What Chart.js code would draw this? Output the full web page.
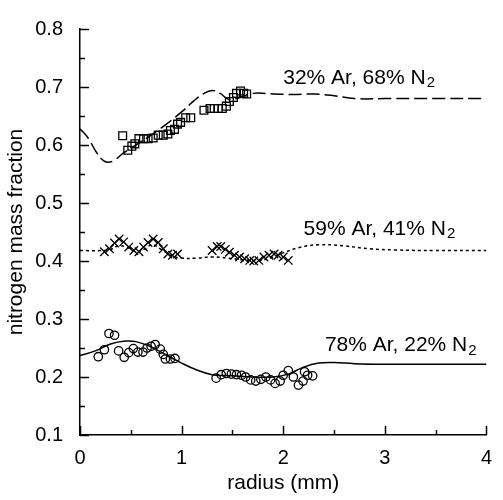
<!DOCTYPE html>
<html>
<head>
<meta charset="utf-8">
<script src="https://cdn.jsdelivr.net/npm/chart.js@4"></script>
<style>
    html, body { margin: 0; padding: 0; background: #fff; }
</style>
</head>
<body>
<canvas id="myChart" width="503" height="500"></canvas>
<script>
// --- data ---
const ticksX = [0, 1, 2, 3, 4];
const ticksY = [0.1, 0.2, 0.3, 0.4, 0.5, 0.6, 0.7, 0.8];

// 32% Ar, 68% N2 (squares + dashed model)
const sqX = [0.42, 0.47, 0.51, 0.54, 0.58, 0.625, 0.67, 0.72, 0.77, 0.82, 0.865, 0.89, 0.93, 0.96, 0.99, 1.04, 1.09,
    1.22, 1.28, 1.32, 1.36, 1.40, 1.44, 1.47, 1.51, 1.54, 1.58, 1.61, 1.64];
const sqY = [0.616, 0.591, 0.598, 0.602, 0.611, 0.611, 0.611, 0.612, 0.617, 0.617, 0.619, 0.625, 0.627, 0.636, 0.639, 0.647, 0.647,
    0.660, 0.663, 0.663, 0.663, 0.663, 0.667, 0.675, 0.682, 0.689, 0.693, 0.689, 0.688];
const dashX = [0, 0.08, 0.16, 0.24, 0.32, 0.42, 0.55, 0.7, 0.85, 1.0, 1.12, 1.22, 1.3, 1.38, 1.46, 1.56, 1.7, 1.9, 2.1, 2.3, 2.5, 2.7, 3.0, 3.5, 4.0];
const dashY = [0.628, 0.612, 0.588, 0.572, 0.572, 0.585, 0.600, 0.617, 0.636, 0.657, 0.676, 0.689, 0.694, 0.689, 0.679, 0.681, 0.689, 0.688, 0.687, 0.688, 0.685, 0.680, 0.680, 0.680, 0.680];

// 59% Ar, 41% N2 (crosses + dotted model)
const crX = [0.24, 0.29, 0.34, 0.385, 0.43, 0.48, 0.53, 0.58, 0.625, 0.67, 0.72, 0.77, 0.82, 0.865, 0.91, 0.96,
    1.30, 1.35, 1.385, 1.43, 1.47, 1.52, 1.57, 1.62, 1.67, 1.71, 1.76, 1.81, 1.86, 1.91, 1.95, 2.00, 2.05];
const crY = [0.416, 0.421, 0.431, 0.438, 0.433, 0.424, 0.418, 0.416, 0.424, 0.432, 0.438, 0.432, 0.421, 0.412, 0.410, 0.412,
    0.418, 0.425, 0.425, 0.420, 0.415, 0.410, 0.407, 0.404, 0.401, 0.400, 0.401, 0.407, 0.410, 0.412, 0.410, 0.407, 0.401];
const dotX = [0, 0.2, 0.3, 0.38, 0.46, 0.55, 0.63, 0.71, 0.8, 0.9, 1.0, 1.15, 1.3, 1.45, 1.6, 1.75, 1.85, 2.0, 2.15, 2.35, 2.6, 2.85, 3.1, 3.5, 4.0];
const dotY = [0.418, 0.418, 0.420, 0.426, 0.424, 0.416, 0.420, 0.428, 0.420, 0.409, 0.405, 0.405, 0.407, 0.405, 0.402, 0.401, 0.404, 0.414, 0.423, 0.428, 0.426, 0.421, 0.419, 0.418, 0.418];

// 78% Ar, 22% N2 (circles + solid model)
const ciX = [0.18, 0.24, 0.285, 0.34, 0.38, 0.435, 0.48, 0.525, 0.57, 0.62, 0.66, 0.70, 0.74, 0.79, 0.82, 0.84, 0.89, 0.935,
    1.34, 1.39, 1.44, 1.49, 1.54, 1.59, 1.63, 1.68, 1.73, 1.78, 1.83, 1.875, 1.92, 1.97, 2.0, 2.05, 2.10, 2.15, 2.195, 2.21, 2.24, 2.29];
const ciY = [0.235, 0.247, 0.275, 0.272, 0.245, 0.234, 0.242, 0.249, 0.243, 0.243, 0.250, 0.253, 0.256, 0.248, 0.239, 0.231, 0.231, 0.232,
    0.198, 0.204, 0.206, 0.205, 0.204, 0.203, 0.200, 0.195, 0.193, 0.196, 0.200, 0.195, 0.189, 0.193, 0.203, 0.211, 0.200, 0.186, 0.193, 0.209, 0.203, 0.202];
const solX = [0, 0.15, 0.3, 0.45, 0.55, 0.7, 0.85, 1.0, 1.15, 1.3, 1.5, 1.7, 1.9, 2.05, 2.2, 2.35, 2.5, 2.7, 3.0, 3.5, 4.0];
const solY = [0.237, 0.245, 0.257, 0.262, 0.261, 0.252, 0.238, 0.224, 0.212, 0.204, 0.202, 0.200, 0.200, 0.205, 0.217, 0.224, 0.225, 0.223, 0.222, 0.222, 0.222];

const labels = [
    { text: '32% Ar, 68% N', sub: '2', x: 2.0, y: 0.716 },
    { text: '59% Ar, 41% N', sub: '2', x: 2.2, y: 0.455 },
    { text: '78% Ar, 22% N', sub: '2', x: 2.41, y: 0.254 }
];

const FONT = '"Liberation Sans", Arial, Helvetica, sans-serif';

function pts(xs, ys) {
    return xs.map((x, i) => ({ x: x, y: ys[i] }));
}

function lineSet(xs, ys, dash) {
    return {
        type: 'line',
        data: pts(xs, ys),
        borderColor: '#000',
        borderWidth: 1.5,
        borderDash: dash,
        pointRadius: 0,
        fill: false,
        tension: 0.4
    };
}

function markSet(xs, ys, style, r) {
    return {
        type: 'scatter',
        data: pts(xs, ys),
        pointStyle: style,
        pointRadius: r,
        borderColor: '#000',
        backgroundColor: 'rgba(0,0,0,0)',
        borderWidth: 1.3
    };
}

// inward major/minor tick marks + curve labels
const extras = {
    id: 'extras',
    afterDraw(chart) {
        const ctx = chart.ctx;
        const xs = chart.scales.x, ys = chart.scales.y;
        ctx.save();
        ctx.strokeStyle = '#000';
        ctx.lineWidth = 1.5;
        const x0 = xs.getPixelForValue(0);
        const y0 = ys.getPixelForValue(0.1);
        for (let i = 0; i <= 14; i++) {
            const v = 0.1 + i * 0.05;
            const len = i % 2 === 0 ? 9 : 5;
            const py = Math.round(ys.getPixelForValue(v)) + 0.5;
            ctx.beginPath();
            ctx.moveTo(x0, py);
            ctx.lineTo(x0 + len, py);
            ctx.stroke();
        }
        for (let i = 0; i <= 8; i++) {
            const v = i * 0.5;
            const len = i % 2 === 0 ? 9 : 5;
            const px = Math.round(xs.getPixelForValue(v)) + 0.5;
            ctx.beginPath();
            ctx.moveTo(px, y0);
            ctx.lineTo(px, y0 - len);
            ctx.stroke();
        }
        ctx.fillStyle = '#000';
        ctx.textBaseline = 'middle';
        ctx.textAlign = 'left';
        labels.forEach(l => {
            const px = xs.getPixelForValue(l.x);
            const py = ys.getPixelForValue(l.y);
            ctx.font = '21px ' + FONT;
            ctx.fillText(l.text, px, py);
            const w = ctx.measureText(l.text).width;
            ctx.font = '15px ' + FONT;
            ctx.fillText(l.sub, px + w + 1, py + 5);
        });
        ctx.restore();
    }
};

Chart.defaults.font.family = FONT;
Chart.defaults.color = '#000';

const ctx = document.getElementById('myChart');
const myChart = new Chart(ctx, {
    data: {
        datasets: [
            lineSet(dashX, dashY, [13, 5]),
            markSet(sqX, sqY, 'rect', 5.5),
            lineSet(dotX, dotY, [3, 3]),
            markSet(crX, crY, 'crossRot', 6),
            lineSet(solX, solY, []),
            markSet(ciX, ciY, 'circle', 4.2)
        ]
    },
    options: {
        responsive: false,
        animation: false,
        layout: { padding: { top: 17, right: 7, left: 0, bottom: 0 } },
        plugins: {
            legend: { display: false },
            tooltip: { enabled: false }
        },
        scales: {
            x: {
                type: 'linear',
                min: 0,
                max: 4,
                afterBuildTicks: s => { s.ticks = ticksX.map(v => ({ value: v })); },
                afterFit: s => { s.height = 65; },
                grid: { display: false, drawTicks: false },
                border: { display: true, color: '#000', width: 1.5 },
                ticks: { padding: 11, font: { size: 20 }, callback: v => String(v) },
                title: { display: true, text: 'radius (mm)', font: { size: 21 }, padding: { top: 0, bottom: 4 } }
            },
            y: {
                type: 'linear',
                min: 0.1,
                max: 0.8,
                afterBuildTicks: s => { s.ticks = ticksY.map(v => ({ value: v })); },
                afterFit: s => { s.width = 80; },
                grid: { display: false, drawTicks: false },
                border: { display: true, color: '#000', width: 1.5 },
                ticks: { padding: 17, font: { size: 20 }, callback: v => Number(v).toFixed(1) },
                title: { display: true, text: 'nitrogen mass fraction', font: { size: 21 }, padding: { top: 4, bottom: 0 } }
            }
        }
    },
    plugins: [extras]
});
</script>
</body>
</html>
